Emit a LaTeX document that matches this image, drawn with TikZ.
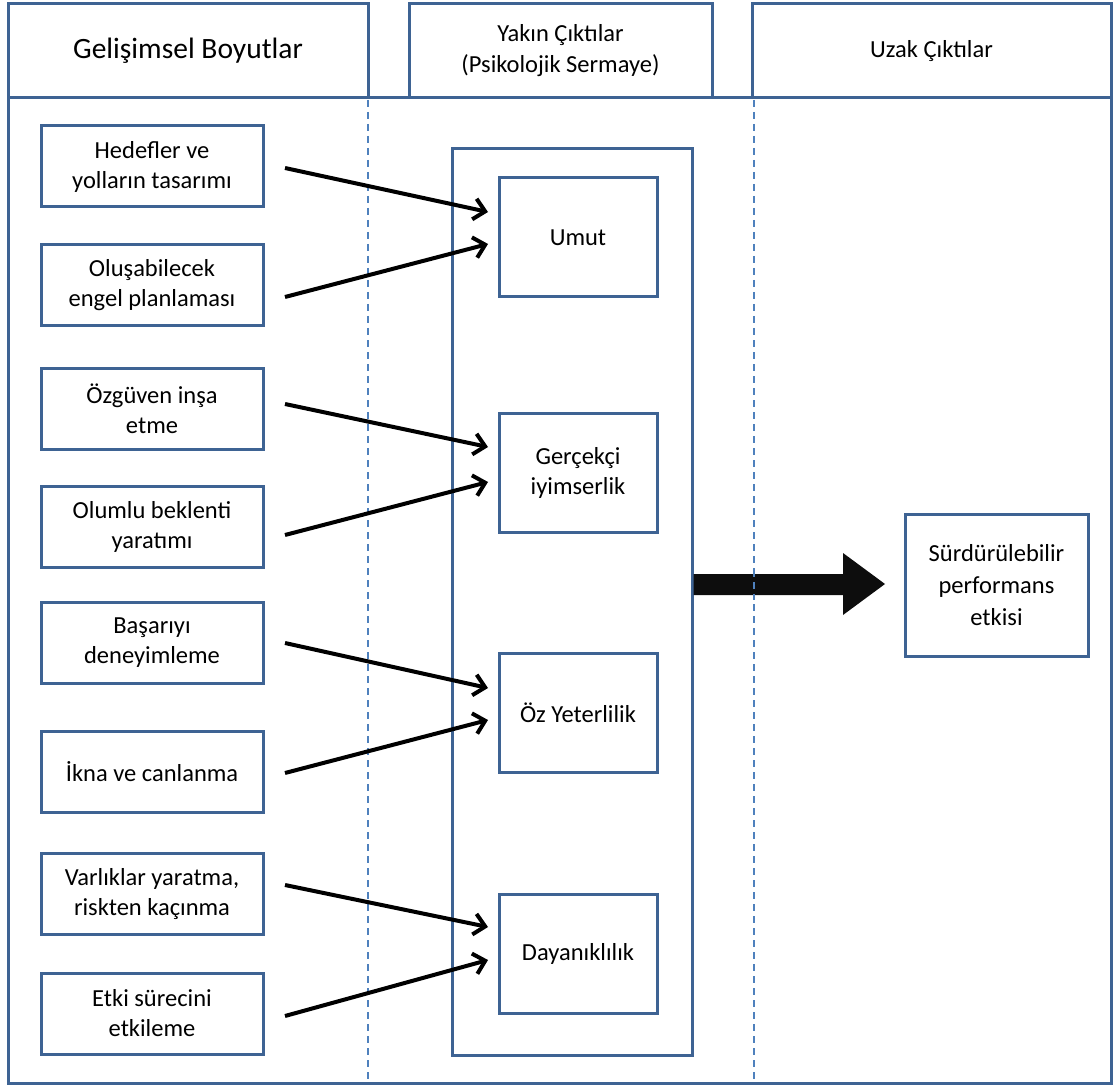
\documentclass[tikz,border=0pt]{standalone}
\usepackage{fontspec}
\setmainfont{Carlito}
\usetikzlibrary{arrows.meta}
\definecolor{frame}{HTML}{3E6393}
\definecolor{guide}{HTML}{4F81BD}
\tikzset{
  box/.style={draw=frame, line width=3pt, fill=white, align=center, inner sep=0pt},
  head/.style={box, font=\fontsize{29.5}{31}\selectfont},
  subhead/.style={box, font=\fontsize{24.5}{31}\selectfont},
  item/.style={box, minimum width=222pt, minimum height=81pt, font=\fontsize{24.5}{30}\selectfont},
  state/.style={box, minimum width=158pt, minimum height=119pt, font=\fontsize{24.5}{30}\selectfont},
  link/.style={line width=4pt, -{Straight Barb[length=11pt,width=21pt,line width=4pt]}},
  guideline/.style={draw=guide, line width=1.6pt, dash pattern=on 7pt off 5pt},
}
\begin{document}
\begin{tikzpicture}[x=1pt,y=-1pt]
\useasboundingbox (0,0) rectangle (1120,1086);

% outer frame and column guides
\draw[frame, line width=3pt] (8,98) rectangle (1111,1083);
\draw[guideline] (368,100) -- (368,1083);
\draw[guideline] (754,100) -- (754,1083);

% column headers
\node[head, minimum width=360pt, minimum height=94pt] (h1) at (188,51) {Gelişimsel Boyutlar};
\node[subhead, minimum width=303pt, minimum height=94pt] (h2) at (560.5,51) {Yakın Çıktılar\\(Psikolojik Sermaye)};
\node[subhead, minimum width=359pt, minimum height=94pt] (h3) at (931.5,51) {Uzak Çıktılar};

% psychological capital container
\node[box, minimum width=240pt, minimum height=906pt] (cap) at (572,602) {};

% developmental dimensions
\node[item] (a1) at (152,166.5) {Hedefler ve\\yolların tasarımı};
\node[item] (a2) at (152,285.5) {Oluşabilecek\\engel planlaması};
\node[item] (a3) at (152,408.5) {Özgüven inşa\\etme};
\node[item] (a4) at (152,527) {Olumlu beklenti\\yaratımı};
\node[item] (a5) at (152,642.5) {Başarıyı\\deneyimleme};
\node[item] (a6) at (152,771.5) {İkna ve canlanma};
\node[item] (a7) at (152,894) {Varlıklar yaratma,\\riskten kaçınma};
\node[item] (a8) at (152,1013.5) {Etki sürecini\\etkileme};

% proximal outcomes
\node[state] (umut) at (578,237.5) {Umut};
\node[state] (iyim) at (578,473) {Gerçekçi\\iyimserlik};
\node[state] (oz) at (578,713) {Öz Yeterlilik};
\node[state] (day) at (578,954) {Dayanıklılık};

% distal outcome
\node[box, minimum width=183pt, minimum height=142pt, font=\fontsize{24.5}{32}\selectfont] (perf) at (996.5,585) {Sürdürülebilir\\performans\\etkisi};

% links from dimensions to outcomes
\coordinate (s1) at (285,168);  \coordinate (t1) at (488,212);
\coordinate (s2) at (285,297);  \coordinate (t2) at (488,244);
\coordinate (s3) at (285,404);  \coordinate (t3) at (488,447);
\coordinate (s4) at (285,535);  \coordinate (t4) at (488,482);
\coordinate (s5) at (285,643);  \coordinate (t5) at (488,688);
\coordinate (s6) at (285,773);  \coordinate (t6) at (488,720);
\coordinate (s7) at (285,885);  \coordinate (t7) at (488,927);
\coordinate (s8) at (285,1016); \coordinate (t8) at (488,960);
\foreach \i in {1,...,8} \draw[link] (s\i) -- (t\i);

% block arrow towards the distal outcome
\fill[black!95] (cap.east |- 0,574) -- (843,574) -- (843,553) -- (885,584)
  -- (843,615) -- (843,595) -- (cap.east |- 0,595) -- cycle;
\draw[guideline] (754,570) -- (754,600);
\end{tikzpicture}
\end{document}
